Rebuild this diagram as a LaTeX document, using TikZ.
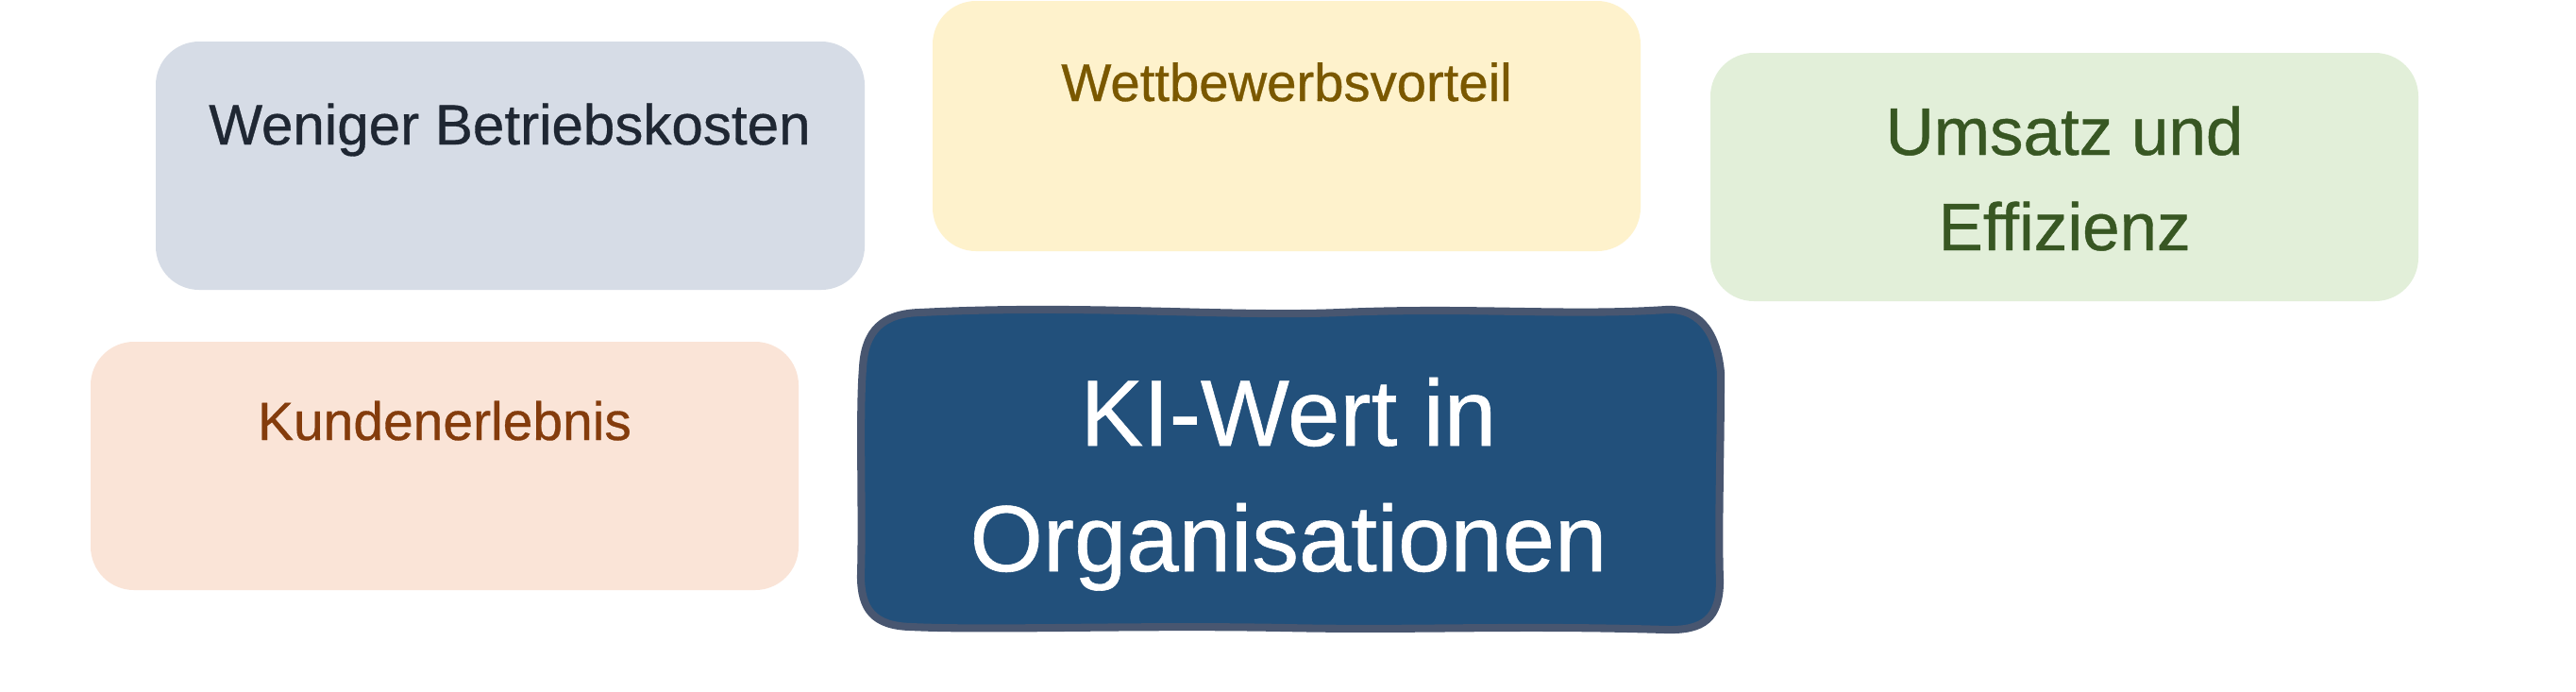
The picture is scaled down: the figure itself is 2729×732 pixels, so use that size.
\documentclass[tikz,border=0pt]{standalone}
\usepackage{fontspec}
\setmainfont[FakeBold=0.6]{Liberation Sans}
\definecolor{fillA}{HTML}{D6DCE6}
\definecolor{textA}{HTML}{1F2733}
\definecolor{fillB}{HTML}{FEF2CC}
\definecolor{textB}{HTML}{7A5800}
\definecolor{fillC}{HTML}{E2EFD9}
\definecolor{textC}{HTML}{385723}
\definecolor{fillD}{HTML}{FAE4D7}
\definecolor{textD}{HTML}{843C0C}
\definecolor{fillM}{HTML}{22507B}
\definecolor{lineM}{HTML}{485670}
\tikzset{
  card/.style={draw=none, rounded corners=0.46cm},
  lbl/.style={anchor=base, inner sep=0pt},
}
\begin{document}
\begin{tikzpicture}[x=0.01cm,y=-0.01cm]
\useasboundingbox (0,0) rectangle (2729,732);
\fill[white] (0,0) rectangle (2729,732);
% cards
\fill[card, fillA] (165,44) rectangle (916,307);
\fill[card, fillB] (988,1) rectangle (1738,266);
\fill[card, fillC] (1812,56) rectangle (2562,319);
\fill[card, fillD] (96,362) rectangle (846,625);
% labels
\node[lbl, text=textA, font=\fontsize{17.1pt}{20pt}\selectfont] (a) at (540,153) {Weniger Betriebskosten};
\node[lbl, text=textB, font=\fontsize{16pt}{19pt}\selectfont] (b) at (1363,107) {Wettbewerbsvorteil};
\node[lbl, text=textC, font=\fontsize{20.2pt}{24pt}\selectfont] (c1) at (2187,164) {Umsatz und};
\node[lbl, text=textC, font=\fontsize{20.2pt}{24pt}\selectfont] (c2) at (2187,265) {Effizienz};
\node[lbl, text=textD, font=\fontsize{16.2pt}{19pt}\selectfont] (d) at (471,466) {Kundenerlebnis};
% main box
\filldraw[fill=fillM, draw=lineM, line width=2.3pt, line join=round]
  (975,331) .. controls (1150,322) and (1300,336) .. (1420,331)
  .. controls (1560,325) and (1660,335) .. (1765,328)
  .. controls (1805,326) and (1820,360) .. (1823,395)
  .. controls (1823,480) and (1820,560) .. (1822,615)
  .. controls (1822,655) and (1805,668) .. (1765,667)
  .. controls (1600,662) and (1500,668) .. (1360,665)
  .. controls (1200,662) and (1050,668) .. (965,664)
  .. controls (925,663) and (912,645) .. (912,610)
  .. controls (914,540) and (910,440) .. (914,390)
  .. controls (916,350) and (935,332) .. (975,331) -- cycle;
\node[lbl, text=white, font=\fontsize{28.3pt}{32pt}\selectfont] (m1) at (1365,472) {KI-Wert in};
\node[lbl, text=white, font=\fontsize{28.3pt}{32pt}\selectfont] (m2) at (1365,605) {Organisationen};
\end{tikzpicture}
\end{document}
